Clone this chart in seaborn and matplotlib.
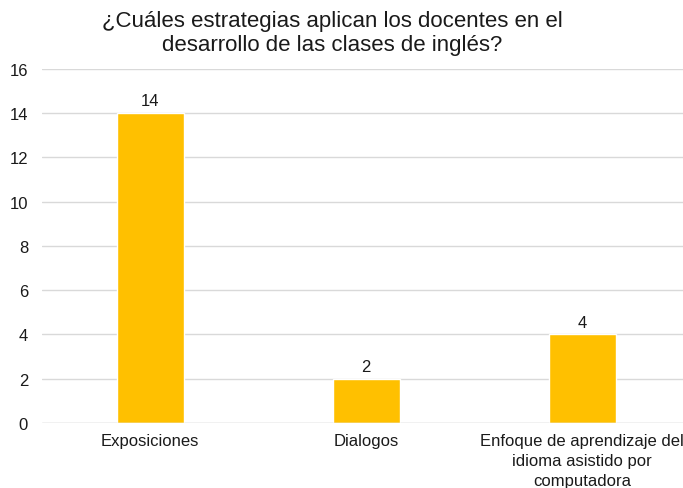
import matplotlib
matplotlib.use('Agg')
import matplotlib.pyplot as plt
import pandas as pd
import seaborn as sns

# Data
categorias = ['Exposiciones', 'Dialogos',
              'Enfoque de aprendizaje del\nidioma asistido por\ncomputadora']
valores = [14, 2, 4]
y_ticks = [0, 2, 4, 6, 8, 10, 12, 14, 16]

df = pd.DataFrame({'estrategia': categorias, 'valor': valores})

sns.set_style('white')
plt.rcParams['font.family'] = ['Liberation Sans', 'DejaVu Sans']

fig = plt.figure(figsize=(6.83, 4.89), dpi=100)
ax = fig.add_axes([0.0615, 0.133, 0.949, 0.724])

sns.barplot(data=df, x='estrategia', y='valor', color='#FFC000',
            width=0.31, saturation=1, ax=ax, zorder=3)

for i, v in enumerate(valores):
    ax.text(i, v + 0.22, str(v), ha='center', va='bottom', fontsize=12,
            color='#1a1a1a')

ax.set_ylim(0, 16)
ax.set_xlim(-0.5, 2.5)
ax.set_yticks(y_ticks)
ax.tick_params(axis='y', labelsize=12, colors='#1a1a1a', length=0, pad=10)
ax.tick_params(axis='x', labelsize=12, colors='#1a1a1a', length=0, pad=7)
for lbl in ax.get_xticklabels():
    lbl.set_linespacing(1.45)
ax.set_xlabel('')
ax.set_ylabel('')
ax.grid(axis='y', color='#D9D9D9', linewidth=1, zorder=0)
for s in ax.spines.values():
    s.set_visible(False)
ax.axhline(0, color='#D9D9D9', linewidth=1, zorder=4)

fig.text(0.487, 0.977, '¿Cuáles estrategias aplican los docentes en el\ndesarrollo de las clases de inglés?',
         ha='center', va='top', fontsize=16, color='#1a1a1a', linespacing=1.2)

fig.savefig('out.png', dpi=100)
